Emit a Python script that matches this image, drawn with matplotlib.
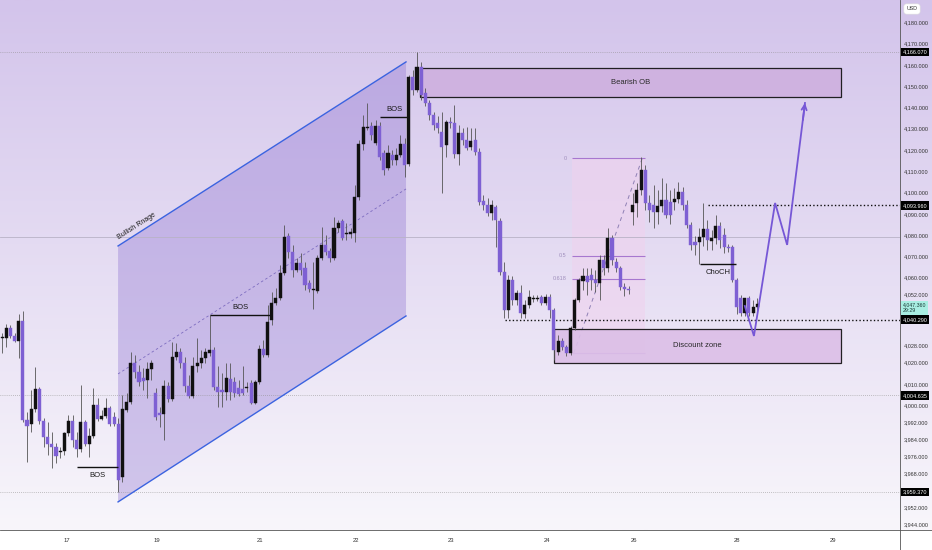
import numpy as np
import matplotlib
matplotlib.use('Agg')
import matplotlib.pyplot as plt
import matplotlib.transforms as mtransforms
from matplotlib.patches import Rectangle, Polygon
from matplotlib.lines import Line2D

plt.rcParams['font.family'] = ['Liberation Sans', 'DejaVu Sans']

# hourly candles (price)
opens = [
    4031.6, 4031.6, 4036.3, 4032.6, 4030.2, 4039.6, 3993.1, 3991.2, 3998.3, 4007.7,
    3992.6, 3985.1, 3981.8, 3980.4, 3978.1, 3978.5, 3987.0, 3992.6, 3983.7, 3979.5,
    3992.2, 3981.8, 3985.6, 4000.2, 3993.6, 3995.0, 3998.8, 3994.5, 3991.2, 3966.3,
    3997.8, 4001.6, 4019.9, 4015.7, 4012.8, 4011.9, 4017.1, 4005.8, 3996.4, 3995.9,
    4009.1, 4003.0, 4022.7, 4025.1, 4019.9, 4009.1, 4004.4, 4018.5, 4019.9, 4022.2,
    4024.6, 4026.0, 4008.6, 4007.2, 4006.3, 4012.4, 4011.0, 4008.1, 4007.7, 4008.1,
    4010.5, 4001.1, 4011.0, 4026.5, 4023.7, 4040.1, 4048.1, 4050.4, 4062.2, 4079.6,
    4072.1, 4063.6, 4066.9, 4064.5, 4057.5, 4054.2, 4053.7, 4069.3, 4075.4, 4072.5,
    4069.3, 4083.3, 4086.6, 4080.5, 4080.5, 4081.0, 4097.9, 4122.8, 4130.3, 4131.3,
    4123.3, 4131.3, 4118.6, 4111.5, 4117.7, 4115.3, 4117.7, 4122.8, 4113.4, 4154.3,
    4148.2, 4159.0, 4146.8, 4142.1, 4136.5, 4132.7, 4128.5, 4122.4, 4133.2, 4132.7,
    4118.1, 4128.0, 4124.7, 4121.4, 4124.7, 4119.1, 4096.0, 4094.2, 4090.4, 4093.2,
    4086.6, 4062.7, 4044.8, 4058.9, 4049.5, 4052.8, 4042.9, 4047.2, 4050.0, 4050.0,
    4050.9, 4048.1, 4050.9, 4044.8, 4025.1, 4030.2, 4027.4, 4024.6, 4036.3, 4049.5,
    4058.4, 4060.8, 4061.3, 4058.9, 4057.5, 4068.3, 4064.5, 4078.6, 4067.4, 4064.5,
    4055.6, 4054.7, 4090.9, 4095.1, 4101.2, 4110.6, 4095.1, 4094.2, 4090.9, 4093.7,
    4096.5, 4095.6, 4095.6, 4097.0, 4100.3, 4094.2, 4084.8, 4076.8, 4076.8, 4079.1,
    4082.9, 4077.2, 4078.6, 4084.3, 4080.1, 4074.4, 4074.4, 4058.9, 4050.4, 4043.4,
    4050.4, 4043.4, 4046.2]
closes = [
    4032.1, 4036.3, 4032.6, 4030.2, 4039.6, 3993.1, 3990.3, 3998.3, 4007.7, 3992.6,
    3985.1, 3981.8, 3980.4, 3976.2, 3978.5, 3987.0, 3992.6, 3983.7, 3979.5, 3992.2,
    3981.8, 3985.6, 4000.2, 3993.6, 3995.0, 3998.8, 3991.2, 3991.2, 3964.9, 3998.3,
    4001.6, 4019.9, 4015.7, 4011.0, 4011.4, 4017.1, 4019.9, 3994.5, 3995.5, 4009.1,
    4003.0, 4022.7, 4025.1, 4019.9, 4009.1, 4004.4, 4018.5, 4019.9, 4022.2, 4025.1,
    4026.0, 4008.6, 4006.3, 4006.3, 4012.8, 4006.3, 4005.8, 4005.3, 4005.8, 4008.6,
    4001.1, 4011.0, 4026.5, 4023.7, 4039.2, 4048.1, 4050.4, 4062.2, 4079.1, 4072.1,
    4063.6, 4066.9, 4063.6, 4056.6, 4054.7, 4054.7, 4069.3, 4075.4, 4072.1, 4069.3,
    4083.3, 4085.7, 4078.6, 4081.0, 4081.5, 4097.9, 4122.8, 4130.8, 4130.8, 4127.1,
    4131.3, 4116.7, 4110.6, 4118.6, 4115.3, 4117.7, 4122.8, 4113.0, 4154.3, 4148.2,
    4159.0, 4145.9, 4142.1, 4136.5, 4131.8, 4130.3, 4121.4, 4133.2, 4132.7, 4118.1,
    4128.0, 4124.7, 4120.9, 4124.2, 4119.1, 4095.6, 4094.2, 4090.4, 4094.2, 4087.1,
    4062.7, 4044.8, 4058.9, 4049.5, 4052.8, 4043.4, 4047.2, 4050.9, 4050.4, 4050.4,
    4048.1, 4050.9, 4044.8, 4026.0, 4030.2, 4027.4, 4024.6, 4036.3, 4049.5, 4058.9,
    4060.8, 4058.0, 4058.9, 4057.5, 4068.3, 4064.5, 4078.6, 4068.3, 4064.5, 4055.6,
    4054.7, 4054.2, 4094.2, 4101.2, 4110.6, 4095.1, 4091.8, 4090.9, 4093.7, 4096.5,
    4089.5, 4089.5, 4097.0, 4100.3, 4094.2, 4084.8, 4075.4, 4075.4, 4079.1, 4082.9,
    4077.7, 4078.6, 4084.3, 4077.7, 4074.4, 4073.9, 4058.9, 4046.2, 4043.4, 4050.4,
    4043.4, 4046.2, 4047.4]
highs = [
    4034.0, 4038.2, 4037.8, 4034.0, 4042.9, 4044.3, 3996.9, 4007.2, 4018.0, 4008.6,
    3994.0, 3992.2, 3987.5, 3982.3, 3980.4, 3987.5, 3995.5, 3995.5, 3987.5, 4009.6,
    3993.1, 3989.3, 4008.1, 4003.4, 3997.8, 4003.4, 3999.7, 3996.9, 3994.0, 4004.9,
    4005.8, 4025.1, 4023.7, 4019.0, 4017.5, 4020.4, 4021.3, 4008.1, 3999.2, 4011.9,
    4011.0, 4029.8, 4029.3, 4026.9, 4022.7, 4014.3, 4022.7, 4031.6, 4026.0, 4026.9,
    4042.5, 4027.4, 4018.5, 4015.2, 4019.9, 4019.9, 4013.3, 4011.9, 4018.5, 4011.0,
    4011.9, 4011.9, 4028.4, 4030.7, 4047.2, 4053.3, 4055.1, 4066.0, 4084.8, 4081.0,
    4075.4, 4069.3, 4071.6, 4067.4, 4058.9, 4067.4, 4070.6, 4083.8, 4080.1, 4073.9,
    4088.5, 4087.1, 4087.6, 4085.7, 4083.3, 4103.5, 4124.7, 4136.4, 4142.1, 4133.2,
    4134.1, 4133.2, 4120.0, 4122.4, 4120.0, 4121.0, 4127.1, 4125.6, 4155.3, 4157.6,
    4166.1, 4161.4, 4149.1, 4143.5, 4137.9, 4136.0, 4137.9, 4134.1, 4135.5, 4141.2,
    4131.8, 4130.3, 4130.8, 4130.3, 4130.3, 4121.0, 4098.9, 4097.4, 4096.5, 4094.2,
    4088.0, 4067.4, 4061.3, 4060.8, 4054.2, 4056.6, 4049.5, 4054.2, 4051.9, 4051.9,
    4051.9, 4052.3, 4052.3, 4045.7, 4033.0, 4031.6, 4028.4, 4037.3, 4050.4, 4059.8,
    4064.5, 4064.5, 4064.5, 4063.6, 4070.6, 4070.6, 4083.3, 4080.1, 4069.3, 4065.5,
    4057.5, 4056.1, 4099.8, 4104.5, 4116.7, 4113.0, 4098.9, 4103.5, 4101.2, 4106.8,
    4104.5, 4101.2, 4102.1, 4105.0, 4102.6, 4096.5, 4086.2, 4079.6, 4083.3, 4095.1,
    4087.1, 4082.4, 4089.5, 4086.2, 4083.3, 4075.8, 4075.4, 4059.8, 4051.9, 4050.4,
    4051.4, 4049.5, 4050.4]
lows = [
    4024.6, 4027.4, 4031.6, 4029.8, 4022.2, 3992.2, 3973.4, 3987.5, 3996.9, 3991.2,
    3980.4, 3976.7, 3970.5, 3972.9, 3975.2, 3976.7, 3985.6, 3980.4, 3975.7, 3978.1,
    3980.9, 3975.7, 3984.6, 3992.6, 3993.1, 3994.0, 3990.3, 3990.3, 3959.4, 3964.0,
    3996.9, 4000.6, 4012.8, 4009.1, 4007.2, 4003.4, 4011.9, 3993.1, 3989.8, 3983.7,
    4001.6, 4002.0, 4021.3, 4017.5, 4006.3, 4003.4, 4003.4, 4015.7, 4017.5, 4019.9,
    4023.2, 4007.2, 3999.2, 3999.2, 4002.5, 4002.5, 4003.9, 4004.4, 4004.9, 4006.3,
    4000.6, 4000.6, 4010.0, 4022.7, 4022.7, 4037.8, 4047.2, 4049.5, 4061.3, 4069.3,
    4060.3, 4062.7, 4061.3, 4054.2, 4053.3, 4045.3, 4052.8, 4068.3, 4070.6, 4067.4,
    4068.3, 4081.5, 4077.7, 4077.7, 4078.6, 4076.8, 4096.5, 4120.0, 4129.4, 4124.7,
    4122.4, 4115.3, 4108.3, 4110.6, 4113.0, 4113.0, 4116.7, 4107.3, 4112.5, 4145.9,
    4147.3, 4143.5, 4140.7, 4134.1, 4129.4, 4128.0, 4099.8, 4116.7, 4130.3, 4116.2,
    4113.0, 4122.4, 4120.0, 4120.0, 4117.7, 4094.2, 4091.8, 4089.0, 4087.1, 4074.4,
    4061.3, 4041.0, 4041.0, 4047.2, 4047.2, 4041.0, 4041.0, 4045.7, 4048.6, 4049.0,
    4047.2, 4047.2, 4041.0, 4021.3, 4023.7, 4026.0, 4023.2, 4023.7, 4035.4, 4048.6,
    4054.2, 4051.9, 4054.2, 4053.3, 4049.5, 4061.3, 4062.7, 4066.0, 4062.7, 4054.2,
    4051.4, 4052.3, 4084.8, 4088.5, 4098.9, 4091.8, 4086.2, 4083.3, 4085.2, 4090.9,
    4088.0, 4085.2, 4091.8, 4095.1, 4091.8, 4083.3, 4073.0, 4070.6, 4066.4, 4074.9,
    4073.0, 4073.0, 4075.8, 4074.0, 4071.6, 4072.1, 4058.0, 4042.9, 4042.0, 4042.0,
    4042.0, 4042.0, 4044.8]

day_pos = [15.7, 37.3, 62.2, 85.3, 108.2, 131.3, 152.3, 177.1, 200.2]
day_labels = ['17', '19', '21', '22', '23', '24', '26', '28', '29']
price_ticks = [4180, 4170, 4160, 4150, 4140, 4130, 4120, 4110, 4100, 4090, 4080,
               4070, 4060, 4052, 4028, 4020, 4010, 4000, 3992, 3984, 3976, 3968,
               3952, 3944]

# marked levels on the price scale
level_high = 4166.07
level_choch = 4093.96
level_range = 4040.29
level_mid = 4004.635
level_low = 3959.37
last_price = 4047.36

# drawings
channel_x = [27.95, 97.35]
channel_top = [4074.9, 4161.4]
channel_bot = [3954.6, 4042.0]
ob_zone = (100.7, 202.2, 4144.9, 4158.6)
discount_zone = (133.0, 202.2, 4020.0, 4036.0)
fib_x = (137.3, 154.9)
fib_low, fib_high = 4024.6, 4116.2
fib_levels = [0, 0.5, 0.618, 1]
bos_marks = [(18.1, 28.0, 3971.0, 'BOS'), (50.1, 64.6, 4042.5, 'BOS'),
             (91.1, 97.8, 4135.5, 'BOS'), (168.2, 176.9, 4066.4, 'ChoCH')]
path_x = [179.0, 181.2, 186.3, 189.2, 193.5]
path_y = [4046.7, 4032.6, 4095.1, 4075.4, 4142.1]

W, H = 932, 550
fig = plt.figure(figsize=(W / 100, H / 100), dpi=100)
fig.patch.set_facecolor('white')

# background gradient
bg = fig.add_axes([0, 20 / H, 1, 530 / H])
bg.axis('off')
t = np.linspace(0, 1, 256)[:, None, None]
top = np.array([211, 196, 235]) / 255
bot = np.array([248, 246, 251]) / 255
bg.imshow(top + (bot - top) * t, aspect='auto', extent=[0, 1, 0, 1], origin='upper')

ax = fig.add_axes([0, 20 / H, 900 / W, 530 / H])
ax.set_facecolor('none')
ax.set_xlim(-0.5, 216.4)
ax.set_ylim(3941.4, 4190.5)
for s in ax.spines.values():
    s.set_visible(False)

# channel
poly = [(channel_x[0], channel_bot[0]), (channel_x[1], channel_bot[1]),
        (channel_x[1], channel_top[1]), (channel_x[0], channel_top[0])]
ax.add_patch(Polygon(poly, closed=True, fc='#8b6fd0', ec='none', alpha=0.35, zorder=1))
ax.plot(channel_x, channel_top, color='#3b63e0', lw=1.0, zorder=3)
ax.plot(channel_x, channel_bot, color='#3b63e0', lw=1.0, zorder=3)
mid = [(a + b) / 2 for a, b in zip(channel_top, channel_bot)]
ax.plot(channel_x, mid, color='#7d6cc0', lw=0.6, ls=(0, (3, 3)), zorder=3)
ax.text(28.4, 4077.0, 'Bullish Rnage', rotation=32.6, rotation_mode='anchor',
        ha='left', va='bottom', fontsize=5.0, color='#1a1a1a', zorder=4)

# fib tool
ax.add_patch(Rectangle((fib_x[0], fib_low), fib_x[1] - fib_x[0], fib_high - fib_low,
                       fc='#efd2ee', ec='none', alpha=0.6, zorder=1))
for lv in fib_levels:
    yv = fib_high - lv * (fib_high - fib_low)
    ax.hlines(yv, fib_x[0], fib_x[1], color='#a777cf', lw=0.8, zorder=2)
    if lv < 1:
        ax.text(fib_x[0] - 1.2, yv, f'{lv:g}', ha='right', va='center',
                fontsize=4.0, color='#a08fbd', zorder=2)
ax.plot([fib_x[0] + 0.5, fib_x[1] - 0.6], [fib_low, fib_high], color='#8f80b5',
        lw=0.7, ls=(0, (4, 4)), zorder=2)

# zones
for (x0, x1, y0, y1), fc, label in [(ob_zone, '#cfb0df', 'Bearish OB'),
                                    (discount_zone, '#dcbfe7', 'Discount zone')]:
    ax.add_patch(Rectangle((x0, y0), x1 - x0, y1 - y0, fc=fc, ec='#111111',
                           lw=0.9, alpha=0.92, zorder=2))
    ax.text((x0 + x1) / 2, (y0 + y1) / 2, label, ha='center', va='center',
            fontsize=5.5, color='#2a2a2a', zorder=4)

# horizontal levels
for lvl in [level_high, level_mid, level_low]:
    ax.axhline(lvl, color='#8e8e8e', lw=0.5, ls=(0, (1, 2)), zorder=2)
ax.axhline(4079.3, color='#b9b2c6', lw=0.6, zorder=2)
ax.hlines(level_choch, 170.1, 216.4, color='#111111', lw=1.0, ls=(0, (1, 1.6)), zorder=3)
ax.hlines(level_range, 121.2, 216.4, color='#111111', lw=1.0, ls=(0, (1, 1.6)), zorder=3)

# candles
o, c, h, l = map(np.array, (opens, closes, highs, lows))
idx = np.arange(len(c))
up = c >= o
cols = np.where(up, '#111111', '#7e60d3')
ax.vlines(idx, l, h, color='#555555', lw=0.6, zorder=5)
ax.bar(idx, np.maximum(np.abs(c - o), 0.4), bottom=np.minimum(o, c), width=0.74,
       color=cols, edgecolor=cols, lw=0.3, zorder=6)

# structure marks
for x0, x1, yv, txt in bos_marks:
    below = txt == 'ChoCH' or x0 < 20
    ax.hlines(yv, x0, x1, color='#111111', lw=1.0, zorder=7)
    ax.text((x0 + x1) / 2, yv - 2.2 if below else yv + 2.0, txt,
            ha='center', va='top' if below else 'bottom',
            fontsize=5.5, color='#1a1a1a', zorder=7)

# projected path
ax.plot(path_x, path_y, color='#7657d6', lw=1.3, zorder=8, solid_joinstyle='miter')
ax.annotate('', xy=(path_x[-1], path_y[-1]), xytext=(path_x[-1] - 0.5, path_y[-1] - 8),
            arrowprops=dict(arrowstyle='->', color='#7657d6', lw=1.3,
                            mutation_scale=9, shrinkA=0, shrinkB=0), zorder=8)

# axes ticks
ax.yaxis.tick_right()
ax.set_yticks(price_ticks)
ax.set_yticklabels([f'{v:,.3f}' for v in price_ticks])
ax.tick_params(axis='y', length=0, pad=2.5, labelsize=4.0, colors='#333333')
ax.set_xticks(day_pos)
ax.set_xticklabels(day_labels)
ax.tick_params(axis='x', length=0, pad=5.5, labelsize=4.2, colors='#333333')

trans = mtransforms.blended_transform_factory(ax.transAxes, ax.transData)
for lvl in [level_high, level_choch, level_range, level_mid, level_low]:
    ax.text(1.003, lvl, f'{lvl:,.3f}', transform=trans, ha='left', va='center',
            fontsize=4.0, color='white', clip_on=False, zorder=10,
            bbox=dict(boxstyle='square,pad=0.3', fc='#000000', ec='none'))
ax.text(1.003, last_price - 1.6, f'{last_price:,.3f}\n29:29', transform=trans,
        ha='left', va='center', fontsize=3.8, color='#1a3a36', linespacing=1.1,
        clip_on=False, zorder=9,
        bbox=dict(boxstyle='square,pad=0.3', fc='#a8eee2', ec='none'))

fig.text(912 / W, 1 - 9 / H, 'USD', ha='center', va='center', fontsize=3.8,
         color='#333333', bbox=dict(boxstyle='round,pad=0.5', fc='white', ec='#dddddd', lw=0.4))
fig.add_artist(Line2D([900 / W, 900 / W], [0, 1], transform=fig.transFigure,
                      color='#555555', lw=0.6))
fig.add_artist(Line2D([0, 1], [20 / H, 20 / H], transform=fig.transFigure,
                      color='#555555', lw=0.6))

fig.savefig('out.png', dpi=100)
